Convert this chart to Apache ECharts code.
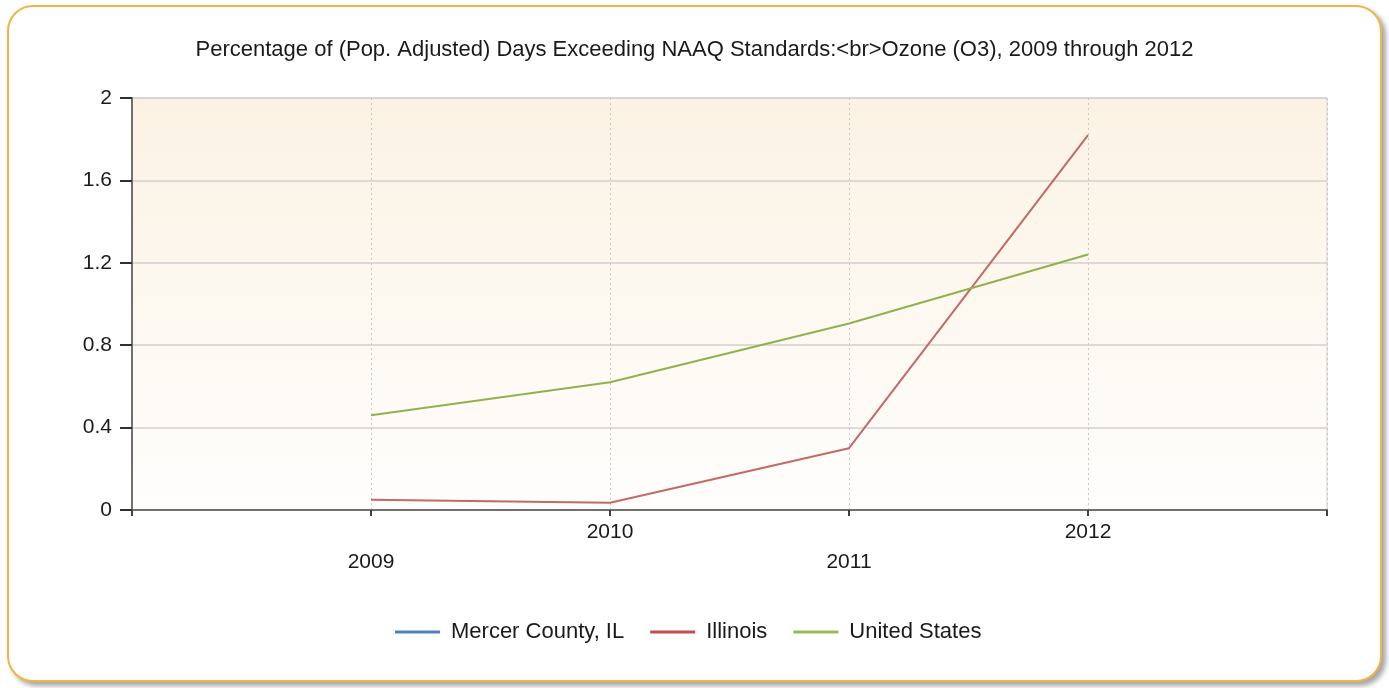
<!DOCTYPE html>
<html>
<head>
<meta charset="utf-8">
<script src="https://cdn.jsdelivr.net/npm/echarts@6/dist/echarts.min.js"></script>
<style>
  html, body { margin: 0; padding: 0; background: #ffffff; }
  #frame {
    position: absolute; left: 7px; top: 5px; width: 1371px; height: 673px;
    border: 2px solid #f0b546; border-radius: 26px; background: #ffffff;
    box-shadow: 4px 4px 5px rgba(0,0,0,0.35);
  }
  #chart { position: absolute; left: 0; top: 0; width: 1389px; height: 688px; }
</style>
</head>
<body>
<div id="frame"></div>
<div id="chart"></div>
<script>
// Percentage of population-adjusted days exceeding the ozone standard
const years = [2009, 2010, 2011, 2012];
const mercerCounty = [0, 0, 0, 0];
const illinois = [0.05, 0.035, 0.30, 1.82];
const unitedStates = [0.46, 0.62, 0.905, 1.24];
const yTicks = [0, 0.4, 0.8, 1.2, 1.6, 2];

const seriesNames = ['Mercer County, IL', 'Illinois', 'United States'];
const seriesColors = ['#4f81bd', '#c0504d', '#9bbb59'];

function pairs(values) {
  return years.map((y, i) => [y, values[i]]);
}

const chart = echarts.init(document.getElementById('chart'));
const font = '"Liberation Sans", Arial, sans-serif';

chart.setOption({
  animation: false,
  backgroundColor: 'transparent',
  title: {
    text: 'Percentage of (Pop. Adjusted) Days Exceeding NAAQ Standards:<br>Ozone (O3), 2009 through 2012',
    left: 'center',
    top: 34,
    textStyle: { fontFamily: font, fontSize: 22, fontWeight: 'normal', color: '#1a1a1a' }
  },
  legend: {
    left: 390,
    top: 616,
    itemWidth: 45,
    itemHeight: 3,
    itemGap: 26,
    icon: 'rect',
    data: seriesNames,
    textStyle: { fontFamily: font, fontSize: 22, color: '#1a1a1a', padding: [0, 0, 0, 6] }
  },
  grid: {
    left: 132, right: 62, top: 98, bottom: 178,
    show: true,
    borderColor: '#d0d0d0',
    borderWidth: 1,
    backgroundColor: {
      type: 'linear', x: 0, y: 0, x2: 0, y2: 1,
      colorStops: [
        { offset: 0, color: '#fbf2e3' },
        { offset: 1, color: '#fffefd' }
      ]
    }
  },
  xAxis: {
    type: 'value',
    min: 2008, max: 2013, interval: 1,
    z: 3,
    axisLine: { show: true, lineStyle: { color: '#707070', width: 2 } },
    axisTick: { show: true, length: 6, lineStyle: { color: '#404040', width: 2 } },
    splitLine: { show: true, lineStyle: { color: '#c8c8c8', type: [2, 3], width: 1 } },
    axisLabel: {
      margin: 12,
      fontFamily: font, fontSize: 21, color: '#1a1a1a',
      formatter: function (v) {
        if (v < years[0] || v > years[years.length - 1]) return '';
        return ((v - years[0]) % 2 === 0) ? '{lo|' + v + '}' : '{hi|' + v + '}';
      },
      rich: {
        hi: { fontFamily: font, fontSize: 21, color: '#1a1a1a' },
        lo: { fontFamily: font, fontSize: 21, color: '#1a1a1a', padding: [30, 0, 0, 0] }
      }
    }
  },
  yAxis: {
    type: 'value',
    min: yTicks[0], max: yTicks[yTicks.length - 1], interval: 0.4,
    z: 3,
    axisLine: { show: true, lineStyle: { color: '#707070', width: 2 } },
    axisTick: { show: true, length: 12, lineStyle: { color: '#303030', width: 2 } },
    splitLine: { show: true, lineStyle: { color: '#d0d0d0', width: 1.5 } },
    axisLabel: {
      margin: 20,
      fontFamily: font, fontSize: 21, color: '#1a1a1a',
      formatter: v => String(+v.toFixed(1))
    }
  },
  series: [
    { name: seriesNames[0], type: 'line', data: pairs(mercerCounty), showSymbol: false, z: 2,
      color: seriesColors[0], lineStyle: { width: 2, color: seriesColors[0] } },
    { name: seriesNames[1], type: 'line', data: pairs(illinois), showSymbol: false, z: 4,
      color: seriesColors[1], lineStyle: { width: 2, color: '#c26a67' } },
    { name: seriesNames[2], type: 'line', data: pairs(unitedStates), showSymbol: false, z: 4,
      color: seriesColors[2], lineStyle: { width: 2, color: '#8fb24c' } }
  ]
});
</script>
</body>
</html>
